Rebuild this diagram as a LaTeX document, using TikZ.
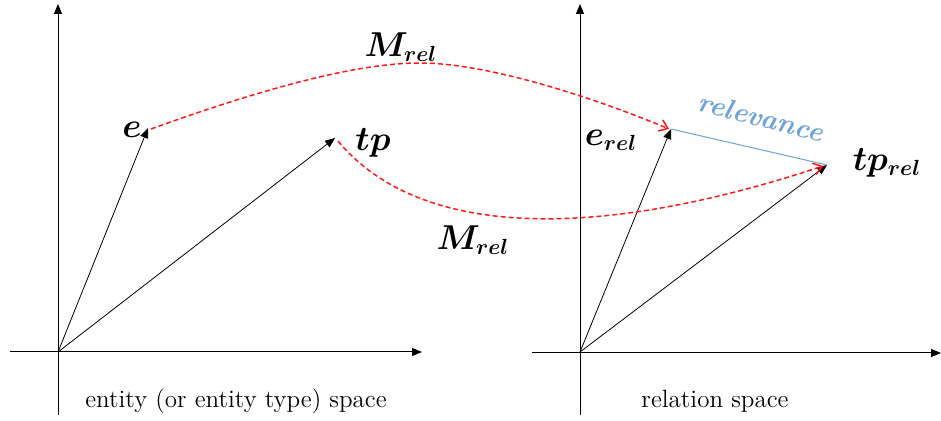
\documentclass[tikz,border=0pt]{standalone}
\usepackage{amsmath, amssymb, bm}
\usepackage{tikz}
\usetikzlibrary{arrows.meta, positioning, calc}
\definecolor{mRed}{HTML}{FF1A1A}
\definecolor{mSkyBlue}{HTML}{6FA3D8}

\begin{document}
\begin{tikzpicture}[x=0.5pt, y=-0.5pt,
      axis/.style={line width=0.5pt, -{Triangle[length=5pt, width=4pt]}},
      vec/.style={line width=0.4pt, -{Triangle[length=5pt, width=4pt]}},
      maplink/.style={mRed, line width=0.75pt, dash pattern=on 2.5pt off 1.5pt,
        -{Straight Barb[length=4pt, width=6pt]}},
      lbl/.style={font=\fontsize{16}{18}\selectfont},
      capt/.style={font=\fontsize{12.5}{15}\selectfont}]
    \useasboundingbox (0,0) rectangle (941,421);
    % entity space
    \coordinate (O1) at (58,352);
    \coordinate (e) at (148,128);
    \coordinate (tp) at (335,138);
    \draw[axis] (58,415) -- (58,4);
    \draw[axis] (10,352) -- (422,352);
    \draw[vec] (O1) -- (e);
    \draw[vec] (O1) -- (tp);
    \node[lbl] (eLbl) at (132,130) {$\bm{e}$};
    \node[lbl] (tpLbl) at (373,143) {$\bm{tp}$};
    \node[capt] (entCapt) at (236,401) {entity (or entity type) space};
    % relation space
    \coordinate (O2) at (580,352);
    \coordinate (erel) at (671,129);
    \coordinate (tprel) at (827,165);
    \coordinate (mPeak) at (420,63);
    \draw[axis] (580,415) -- (580,4);
    \draw[axis] (532,353) -- (941,353);
    \draw[vec] (O2) -- (erel);
    \draw[vec] (O2) -- (tprel);
    \node[lbl] (erelLbl) at (611,140) {$\bm{e_{rel}}$};
    \node[lbl] (tprelLbl) at (887,163) {$\bm{tp_{rel}}$};
    \node[capt] (relCapt) at (715,401) {relation space};
    % mappings
    \draw[maplink] ($(e)+(3,1)$) .. controls (270,86) and (360,63) .. (mPeak)
      .. controls (490,63) and (600,100) .. ($(erel)+(-2,0)$);
    \draw[maplink] ($(tp)+(3,3)$)
      .. controls (420,240) and (600,240) .. ($(tprel)+(-4,1)$);
    \node[lbl] (mTop) at (401,47) {$\bm{M_{rel}}$};
    \node[lbl] (mBot) at (473,240) {$\bm{M_{rel}}$};
    % relevance
    \draw[mSkyBlue, line width=0.5pt] (erel) -- (tprel);
    \node[font=\fontsize{14}{16}\selectfont\bfseries\itshape, mSkyBlue, rotate=-14, inner sep=1pt] (relev) at (761,117) {relevance};
  \end{tikzpicture}
\end{document}
